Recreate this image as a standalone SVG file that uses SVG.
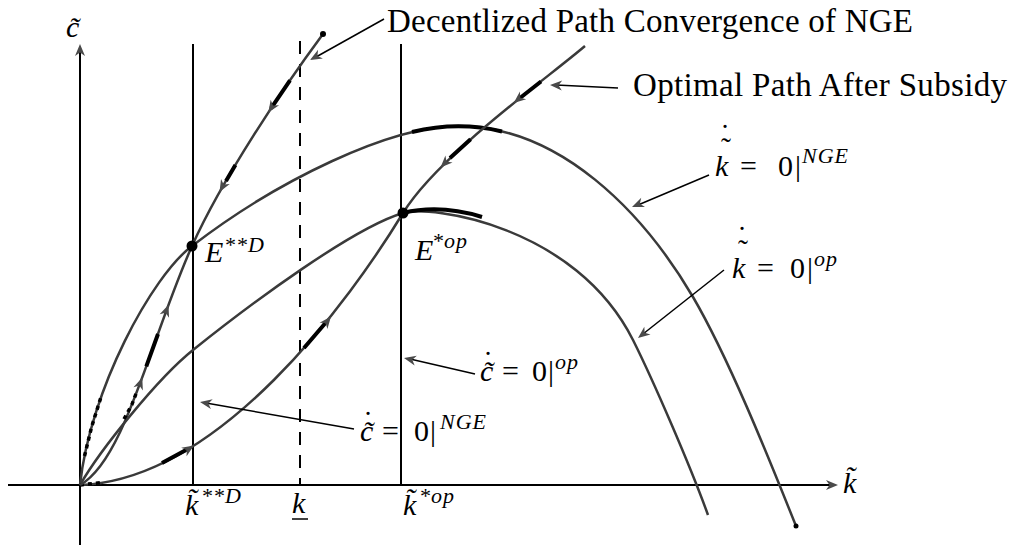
<svg xmlns="http://www.w3.org/2000/svg" width="1013" height="546" viewBox="0 0 1013 546">
<defs>
<style>
.ax{stroke:#000;stroke-width:2;fill:none}
.vl{stroke:#000;stroke-width:2;fill:none}
.dl{stroke:#000;stroke-width:2;fill:none;stroke-dasharray:13 10}
.cv{stroke:#3a3a3a;stroke-width:2.5;fill:none}
.hl{stroke:#000;stroke-width:4;fill:none}
.dsh{stroke:#000;stroke-width:3.5;fill:none;stroke-dasharray:4 4}
.ld{stroke:#000;stroke-width:1.5;fill:none}
.ah{fill:#4a4a4a}
text{font-family:'Liberation Serif',serif;fill:#000}
.t{font-size:33px}
.m{font-size:30px}
.i{font-style:italic}
.s{font-size:22px;font-style:italic;letter-spacing:1px}
.acc{font-style:normal;text-anchor:middle}
</style>
<path id="ah" class="ah" d="M0,0 L-12,-5 L-8.5,0 L-12,5 Z"/>
</defs>
<rect width="1013" height="546" fill="#fff"/>

<g id="axes">
<line class="ax" x1="8" y1="485" x2="832" y2="485"/>
<line class="ax" x1="80" y1="545" x2="80" y2="50"/>
<use href="#ah" transform="translate(80,44) rotate(-90)"/>
<use href="#ah" transform="translate(838,485)"/>
<text class="m i" x="66" y="37">c̃</text>
<text class="m i" x="843" y="493">k̃</text>
</g>

<g id="vertical-lines">
<line class="vl" x1="193" y1="44" x2="193" y2="485"/>
<line class="dl" x1="300" y1="41" x2="300" y2="485"/>
<line class="vl" x1="401" y1="44" x2="401" y2="485"/>
</g>

<g id="kdot-NGE-curve">
<path class="cv" d="M80,485 C90,390 152,276 192,246 C278,180 390,126 458,126 C560,126 643,212 693,297 C728,357 766,451 796,526"/>
<path class="hl" d="M412,132 Q458,121 502,131.5"/>
<path class="dsh" d="M84.5,456 L91.7,426.6 L101,397"/>
<circle cx="796" cy="526" r="2.5"/>
</g>

<g id="kdot-op-curve">
<path class="cv" d="M80,485 C100,450 158,378 193,350 C253,302 353,228 403,213 C430,205 575,225 633,340 C653,380 690,465 708,515"/>
<path class="hl" d="M403,213 Q440,204 482,217"/>
</g>

<g id="optimal-path">
<path class="cv" d="M80,485 C220,480 350,300 403,213 C438,156 545,80 585,46"/>
<path class="hl" d="M162,463 L186,450 M304,348 L325,323.5 M450,158 L470.6,139.3 M520,98 L541,81.5"/>
<path class="dsh" d="M80,485 L101,482.6"/>
<use href="#ah" transform="translate(194,445.5) rotate(-32.4)"/>
<use href="#ah" transform="translate(331,316.4) rotate(-51.3)"/>
<use href="#ah" transform="translate(440.5,167.6) rotate(134.8)"/>
<use href="#ah" transform="translate(513.7,103) rotate(141)"/>
</g>

<g id="decentralized-path">
<path class="cv" d="M80,485 C125,460 150,340 192,246 C222,179 283,88 323,34"/>
<path class="hl" d="M146.3,366.4 L158,334 M226,181 L235.4,164.9 M271,108.3 L290,80.4"/>
<path class="dsh" d="M124,419 L131.9,404.6 L137,391"/>
<circle cx="323" cy="34" r="3"/>
<use href="#ah" transform="translate(268.3,112.6) rotate(123.3)"/>
<use href="#ah" transform="translate(219.5,192) rotate(119.4)"/>
<use href="#ah" transform="translate(142.3,377.6) rotate(-69.8)"/>
<use href="#ah" transform="translate(168.5,304.7) rotate(-69.8)"/>
</g>

<g id="E-D">
<circle cx="192" cy="246" r="5.5"/>
<text class="m i" x="205" y="262">E<tspan class="s" x="224" y="252">**D</tspan></text>
</g>

<g id="E-op">
<circle cx="403" cy="213" r="5.5"/>
<text class="m i" x="415" y="260">E<tspan class="s" x="432" y="248">*op</tspan></text>
</g>

<g id="tick-labels">
<text class="m i" x="185" y="515">k̃<tspan class="s" x="201" y="503">**D</tspan></text>
<text class="m i" x="292" y="513">k</text>
<line x1="292" y1="519" x2="308" y2="519" stroke="#000" stroke-width="1.5"/>
<text class="m i" x="403" y="515">k̃<tspan class="s" x="419" y="503">*op</tspan></text>
</g>

<g id="label-decentralized">
<text class="t" x="387" y="32" textLength="526" font-family="DejaVu Serif">Decentlized Path Convergence of NGE</text>
</g>
<g id="label-optimal">
<text class="t" x="633" y="96" textLength="374">Optimal Path After Subsidy</text>
</g>
<g id="label-kdot-NGE">
<text class="m" y="176"><tspan class="i" x="715">k</tspan><tspan class="acc" x="726" y="158">˜</tspan><tspan class="acc" x="725" y="145">˙</tspan><tspan x="740" y="176">=</tspan><tspan x="778">0</tspan><tspan x="795">|</tspan><tspan class="s" x="802" y="163">NGE</tspan></text>
</g>
<g id="label-kdot-op">
<text class="m" y="278"><tspan class="i" x="732">k</tspan><tspan class="acc" x="743" y="260">˜</tspan><tspan class="acc" x="742" y="247">˙</tspan><tspan x="757" y="278">=</tspan><tspan x="790">0</tspan><tspan x="807">|</tspan><tspan class="s" x="814" y="266">op</tspan></text>
</g>
<g id="label-cdot-op">
<text class="m" y="381"><tspan class="i" x="480">c̃</tspan><tspan class="acc" x="488" y="372">˙</tspan><tspan x="502" y="381">=</tspan><tspan x="532">0</tspan><tspan x="548">|</tspan><tspan class="s" x="555" y="369">op</tspan></text>
</g>
<g id="label-cdot-NGE">
<text class="m" y="441"><tspan class="i" x="360">c̃</tspan><tspan class="acc" x="368" y="432">˙</tspan><tspan x="382" y="441">=</tspan><tspan x="414">0</tspan><tspan x="430">|</tspan><tspan class="s" x="440" y="429">NGE</tspan></text>
</g>

<g id="connectors">
<line class="ld" x1="384" y1="19" x2="316" y2="57"/>
<use href="#ah" transform="translate(310,60) rotate(151)"/>
<line class="ld" x1="618" y1="88" x2="556" y2="85"/>
<use href="#ah" transform="translate(550,85) rotate(182.5)"/>
<line class="ld" x1="709" y1="175" x2="638" y2="205"/>
<use href="#ah" transform="translate(632,207) rotate(157.8)"/>
<line class="ld" x1="724" y1="270" x2="643" y2="334"/>
<use href="#ah" transform="translate(638,338) rotate(141.7)"/>
<line class="ld" x1="475" y1="374" x2="410" y2="359"/>
<use href="#ah" transform="translate(404,358) rotate(192.5)"/>
<line class="ld" x1="354" y1="429" x2="206" y2="403"/>
<use href="#ah" transform="translate(200,402) rotate(190.4)"/>
</g>
</svg>
